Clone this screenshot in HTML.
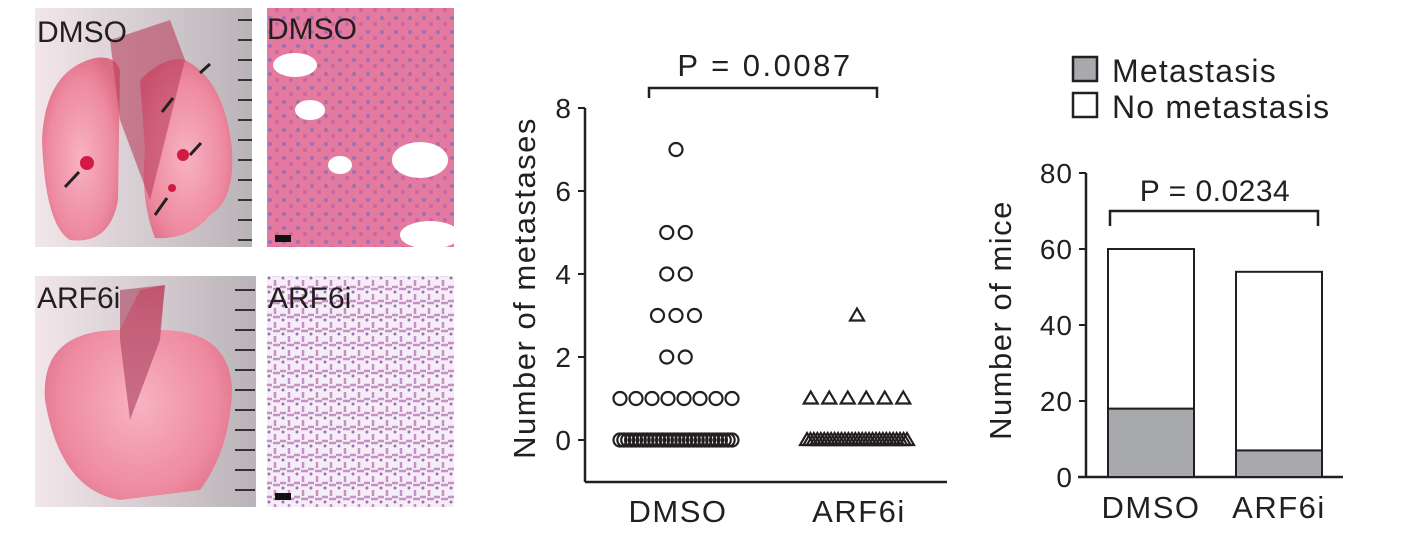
<!DOCTYPE html>
<html><head><meta charset="utf-8"><style>
body{margin:0;background:#fff;width:1405px;height:540px;overflow:hidden;font-family:"Liberation Sans",sans-serif}
svg text{font-family:"Liberation Sans",sans-serif;fill:#231f20}
</style></head><body>
<svg id="fig" width="1405" height="540" viewBox="0 0 1405 540">
<defs>
<radialGradient id="lungA" cx="50%" cy="55%" r="60%"><stop offset="0" stop-color="#f7b3c1"/><stop offset="0.7" stop-color="#ee8aa0"/><stop offset="1" stop-color="#dc6c84"/></radialGradient>
<linearGradient id="bgA" x1="0" x2="1"><stop offset="0" stop-color="#f2e6ea"/><stop offset="1" stop-color="#b9b3b8"/></linearGradient>
<pattern id="histoA" width="14" height="14" patternUnits="userSpaceOnUse"><rect width="14" height="14" fill="#e57aa0"/><circle cx="4" cy="4" r="2" fill="#9f6fb3"/><circle cx="11" cy="10" r="2" fill="#c9669c"/></pattern>
<pattern id="histoB" width="14" height="14" patternUnits="userSpaceOnUse"><rect width="14" height="14" fill="#f6eef6"/><path d="M0 7 h6 M9 0 v6 M7 9 h7" stroke="#c88fc6" stroke-width="2.5"/><circle cx="3" cy="12" r="1.5" fill="#9a70b8"/></pattern>
</defs>

<g>
<rect x="35" y="8" width="217" height="239" fill="url(#bgA)"/>
<path d="M42 140 Q45 70 95 58 Q115 55 120 70 L118 200 Q110 245 70 240 Q45 225 42 140Z" fill="url(#lungA)"/>
<path d="M140 80 Q165 55 185 60 Q225 80 232 150 Q235 200 210 215 Q190 240 155 238 Q140 200 145 150Z" fill="url(#lungA)"/>
<path d="M110 40 L170 20 L185 60 L150 200 L120 120Z" fill="#b9405e" opacity="0.6"/>
<circle cx="87" cy="163" r="7" fill="#d21a44"/><circle cx="183" cy="155" r="6" fill="#d21a44"/><circle cx="172" cy="188" r="4" fill="#d21a44"/>
<g stroke="#222" stroke-width="3"><line x1="65" y1="187" x2="79" y2="172"/><line x1="155" y1="215" x2="167" y2="198"/><line x1="162" y1="112" x2="173" y2="98"/><line x1="190" y1="155" x2="201" y2="143"/><line x1="200" y1="73" x2="210" y2="64"/></g>
<g stroke="#333" stroke-width="2"><line x1="238" y1="20" x2="252" y2="20"/><line x1="238" y1="40" x2="252" y2="40"/><line x1="238" y1="60" x2="252" y2="60"/><line x1="238" y1="80" x2="252" y2="80"/><line x1="238" y1="100" x2="252" y2="100"/><line x1="238" y1="120" x2="252" y2="120"/><line x1="238" y1="140" x2="252" y2="140"/><line x1="238" y1="160" x2="252" y2="160"/><line x1="238" y1="180" x2="252" y2="180"/><line x1="238" y1="200" x2="252" y2="200"/><line x1="238" y1="220" x2="252" y2="220"/><line x1="238" y1="240" x2="252" y2="240"/></g>
<text x="37" y="42" font-size="30">DMSO</text>
</g>
<g>
<rect x="267" y="8" width="187" height="239" fill="url(#histoA)"/>
<ellipse cx="295" cy="65" rx="22" ry="12" fill="#fff"/><ellipse cx="420" cy="160" rx="28" ry="18" fill="#fff"/><ellipse cx="340" cy="165" rx="12" ry="9" fill="#fff"/><ellipse cx="430" cy="235" rx="30" ry="14" fill="#fff"/><ellipse cx="310" cy="110" rx="15" ry="10" fill="#fff"/>
<rect x="275" y="235" width="16" height="7" fill="#111"/>
<text x="267" y="39" font-size="30">DMSO</text>
</g>
<g>
<rect x="35" y="276" width="221" height="231" fill="url(#bgA)"/>
<path d="M45 400 Q40 330 120 330 L140 290 L165 285 L160 330 Q230 330 232 390 Q230 450 200 490 L120 500 Q60 490 45 400Z" fill="url(#lungA)"/>
<path d="M120 290 L165 285 L160 340 L130 420 L120 340Z" fill="#a8405b" opacity="0.6"/>
<g stroke="#333" stroke-width="2"><line x1="235" y1="290" x2="255" y2="290"/><line x1="235" y1="310" x2="255" y2="310"/><line x1="235" y1="330" x2="255" y2="330"/><line x1="235" y1="350" x2="255" y2="350"/><line x1="235" y1="370" x2="255" y2="370"/><line x1="235" y1="390" x2="255" y2="390"/><line x1="235" y1="410" x2="255" y2="410"/><line x1="235" y1="430" x2="255" y2="430"/><line x1="235" y1="450" x2="255" y2="450"/><line x1="235" y1="470" x2="255" y2="470"/><line x1="235" y1="490" x2="255" y2="490"/></g>
<text x="37" y="308" font-size="30">ARF6i</text>
</g>
<g>
<rect x="267" y="276" width="187" height="231" fill="url(#histoB)"/>
<rect x="275" y="493" width="16" height="7" fill="#111"/>
<text x="268" y="308" font-size="30">ARF6i</text>
</g>

<g id="scatter"></g>
<g id="bars"></g>
</svg>
<script>
const NS='http://www.w3.org/2000/svg';
function mk(tag,attrs,parent,txt){const e=document.createElementNS(NS,tag);for(const k in attrs)e.setAttribute(k,attrs[k]);if(txt!==undefined)e.textContent=txt;parent.appendChild(e);return e;}

// ---- scatter data ----
const groups=['DMSO','ARF6i'];
const dmsoValues=[7,5,5,4,4,3,3,3,2,2,1,1,1,1,1,1,1,1,0,0,0,0,0,0,0,0,0,0,0,0,0,0,0,0,0,0,0,0,0,0,0,0,0,0,0,0,0,0];
const arf6iValues=[3,1,1,1,1,1,1,0,0,0,0,0,0,0,0,0,0,0,0,0,0,0,0,0,0,0,0,0,0,0,0,0,0,0,0,0,0];
const scatterTicks=[0,2,4,6,8];
const scatterP='P = 0.0087';

const LBL={'font-size':31,'letter-spacing':1.5};
const TICK={'font-size':28,'letter-spacing':1};
function T(x,y,extra,parent,txt,anchor){return mk('text',Object.assign({x:x,y:y,'text-anchor':anchor||'middle'},extra),parent,txt);}

const sg=document.getElementById('scatter');
const sy=v=>440-v*41.5;
const sxCenter=[676,857];
mk('line',{x1:585,y1:108,x2:585,y2:482,stroke:'#231f20','stroke-width':2.5},sg);
mk('line',{x1:585,y1:482,x2:947,y2:482,stroke:'#231f20','stroke-width':2.5},sg);
scatterTicks.forEach(t=>{
  const l=mk('line',{x1:578,x2:585,y1:sy(t),y2:sy(t),stroke:'#231f20','stroke-width':2},sg);
  
  
  const tx=T(572,sy(t)+10,TICK,sg,t,'end');
  
  
});
const yt=mk('text',Object.assign({transform:'translate(535,288) rotate(-90)','text-anchor':'middle'},LBL),sg,'Number of metastases');


groups.forEach((g,i)=>{
  const t=T(sxCenter[i]+2,522,LBL,sg,g);
  
  
});
const br=mk('path',{d:'M649 98 V88 H877 V98',fill:'none',stroke:'#231f20','stroke-width':2.5},sg);


const pt=T(765,76,{'font-size':31,'letter-spacing':2.5},sg,scatterP);



function plotGroup(vals,gi){
  const counts={};vals.forEach(v=>counts[v]=(counts[v]||0)+1);
  const idx={};
  vals.forEach(v=>{
    const n=counts[v];idx[v]=(idx[v]||0);
    const maxW=gi===0?112:100;
    const sp=n>1?Math.min(18.5,maxW/(n-1)):0;
    const x=sxCenter[gi]-sp*(n-1)/2+sp*idx[v];idx[v]++;
    const y=sy(v);
    let e;
    if(gi===0){e=mk('circle',{cx:x,cy:y,r:6.5,fill:'none',stroke:'#231f20','stroke-width':2.2},sg);}
    else{e=mk('path',{d:`M${x} ${y-7} L${x+7} ${y+5} L${x-7} ${y+5}Z`,fill:'none',stroke:'#231f20','stroke-width':2.2},sg);}
    
    
  });
}
plotGroup(dmsoValues,0);plotGroup(arf6iValues,1);

// ---- bar data ----
const barCategories=['DMSO','ARF6i'];
const metastasis=[18,7];
const noMetastasis=[42,47];
const barTicks=[0,20,40,60,80];
const barP='P = 0.0234';

const bg=document.getElementById('bars');
const by=v=>477-v*3.8;
const bx=[1108,1236],bw=86;
mk('line',{x1:1086,y1:173,x2:1086,y2:477,stroke:'#231f20','stroke-width':2.5},bg);
mk('line',{x1:1078,y1:477,x2:1343,y2:477,stroke:'#231f20','stroke-width':2.5},bg);
barTicks.forEach(t=>{
  const l=mk('line',{x1:1079,x2:1086,y1:by(t),y2:by(t),stroke:'#231f20','stroke-width':2},bg);
  
  
  const tx=T(1073,by(t)+10,TICK,bg,t,'end');
  
  
});
const byt=mk('text',Object.assign({transform:'translate(1011,320) rotate(-90)','text-anchor':'middle'},LBL),bg,'Number of mice');


barCategories.forEach((c,i)=>{
  const m=mk('rect',{x:bx[i],y:by(metastasis[i]),width:bw,height:by(0)-by(metastasis[i]),fill:'#a7a9ac',stroke:'#231f20','stroke-width':2},bg);
  
  
  const tot=metastasis[i]+noMetastasis[i];
  const n=mk('rect',{x:bx[i],y:by(tot),width:bw,height:by(metastasis[i])-by(tot),fill:'#fff',stroke:'#231f20','stroke-width':2},bg);
  
  
  const t=T(bx[i]+bw/2,518,LBL,bg,c);
  
  
});
const bb=mk('path',{d:'M1110 226 V211 H1318 V226',fill:'none',stroke:'#231f20','stroke-width':2.5},bg);


const bpt=T(1215,201,{'font-size':30,'letter-spacing':0.5},bg,barP);


[['Metastasis','#a7a9ac',57],['No metastasis','#fff',93]].forEach(([lab,col,y])=>{
  const g=mk('g',{},bg);
  
  
  mk('rect',{x:1073,y:y,width:24,height:24,fill:col,stroke:'#231f20','stroke-width':2.5},g);
  mk('text',{x:1112,y:y+25,'font-size':32,'letter-spacing':1.2},g,lab);
});
</script>
</body></html>
